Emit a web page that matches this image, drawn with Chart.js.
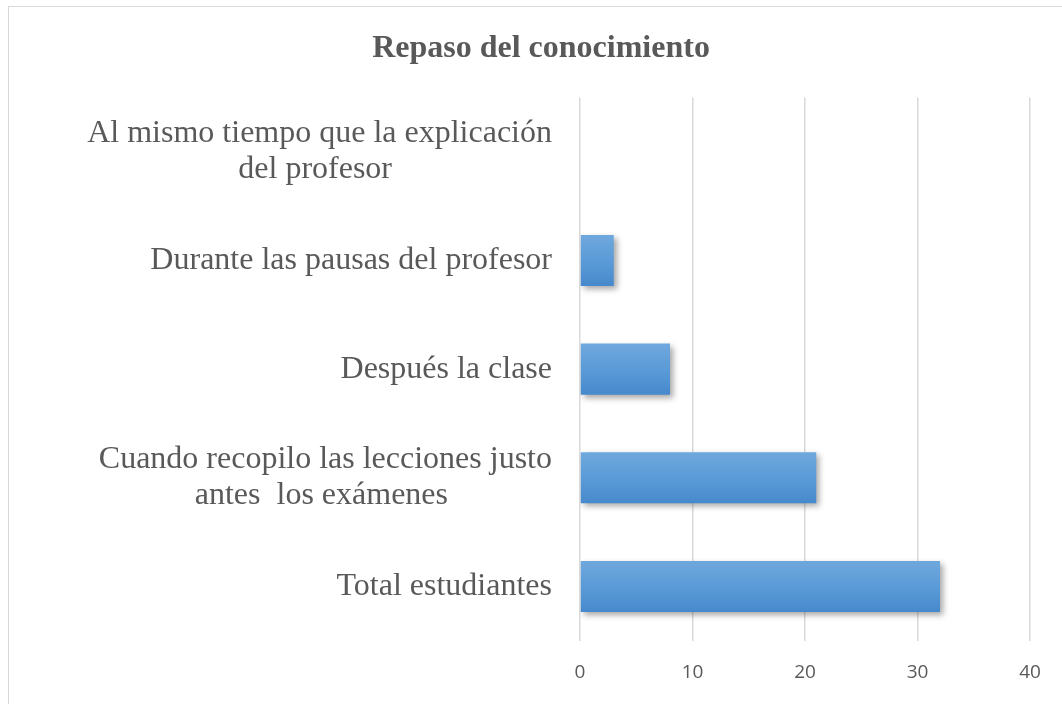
<!DOCTYPE html>
<html>
<head>
<meta charset="utf-8">
<script src="https://cdn.jsdelivr.net/npm/chart.js@4/dist/chart.umd.min.js"></script>
<style>
    html, body { margin: 0; padding: 0; background: #fff; overflow: hidden; }
    #marco {
        position: absolute; left: 8px; top: 6px;
        width: 1064px; height: 720px;
        border-top: 1.5px solid #d9d9d9; border-left: 1.5px solid #d9d9d9;
    }
    #contenedor { position: absolute; left: 0; top: 0; width: 1064px; height: 698px; }
</style>
</head>
<body>
<div id="marco"><div id="contenedor"><canvas id="myChart"></canvas></div></div>
<script>

// categorias de arriba hacia abajo
const categorias = [
    ["Al mismo tiempo que la explicación", "del profesor"],
    "Durante las pausas del profesor",
    "Después la clase",
    ["Cuando recopilo las lecciones justo", "antes  los exámenes"],
    "Total estudiantes"
];
const valores = [0, 3, 8, 21, 32];
const ticksX = [0, 10, 20, 30, 40];

const anchoBarra = 0.47;

let ctx;
let myChart;

// sombra de las barras
const sombra = {
    id: 'sombra',
    beforeDatasetsDraw(chart) {
        const c = chart.ctx;
        c.save();
        c.shadowColor = 'rgba(0,0,0,0.35)';
        c.shadowBlur = 6;
        c.shadowOffsetX = 3;
        c.shadowOffsetY = 3;
    },
    afterDatasetsDraw(chart) {
        chart.ctx.restore();
    }
};

function degradado(context) {
    const chart = context.chart;
    const y = chart.scales.y;
    if (!y || !chart.chartArea) {
        return '#5b9bd5';
    }
    const centro = y.getPixelForValue(context.dataIndex);
    const mitad = (y.height / categorias.length) * anchoBarra / 2;
    const g = chart.ctx.createLinearGradient(0, centro - mitad, 0, centro + mitad);
    g.addColorStop(0, '#6fa8dd');
    g.addColorStop(0.5, '#5b9bd8');
    g.addColorStop(1, '#4689cc');
    return g;
}

// la segunda linea va centrada bajo la primera: se rellena con espacios
function etiqueta(valor, i) {
    const cat = categorias[i];
    if (!Array.isArray(cat)) {
        return cat;
    }
    const espacios = i === 0 ? 20 : 13;
    return [cat[0], cat[1] + ' '.repeat(espacios)];
}

function crearGrafico(){

    ctx = document.getElementById('myChart').getContext('2d');

    myChart = new Chart(ctx, {
        type: 'bar',
        data: {
            labels: categorias,
            datasets: [{
                data: valores,
                backgroundColor: degradado,
                borderWidth: 0,
                barPercentage: anchoBarra,
                categoryPercentage: 1
            }]
        },
        plugins: [sombra],
        options: {
            indexAxis: 'y',
            responsive: true,
            maintainAspectRatio: false,
            animation: false,
            layout: { padding: { top: 0, right: 43, left: 43, bottom: 0 } },
            plugins: {
                legend: { display: false },
                tooltip: { enabled: false },
                title: {
                    display: true,
                    text: 'Repaso del conocimiento',
                    color: '#595959',
                    font: { family: 'Liberation Serif', size: 32, weight: 'bold' },
                    padding: { top: 23, bottom: 29 }
                }
            },
            scales: {
                x: {
                    min: 0,
                    max: 40,
                    afterBuildTicks(scale) {
                        scale.ticks = ticksX.map(v => ({ value: v }));
                    },
                    afterFit(scale) {
                        scale.height = 58;
                    },
                    grid: { color: '#d9d9d9', lineWidth: 1.5, drawTicks: false },
                    border: { display: false },
                    ticks: {
                        color: '#595959',
                        padding: 20,
                        font: { family: 'Open Sans', size: 19 }
                    }
                },
                y: {
                    afterFit(scale) {
                        scale.width = 528;
                    },
                    grid: { display: false, drawTicks: false },
                    border: { display: false },
                    ticks: {
                        color: '#595959',
                        padding: 28,
                        font: { family: 'Liberation Serif', size: 32, lineHeight: 1.13 },
                        callback: etiqueta
                    }
                }
            }
        }
    });
}

crearGrafico();
</script>
</body>
</html>
